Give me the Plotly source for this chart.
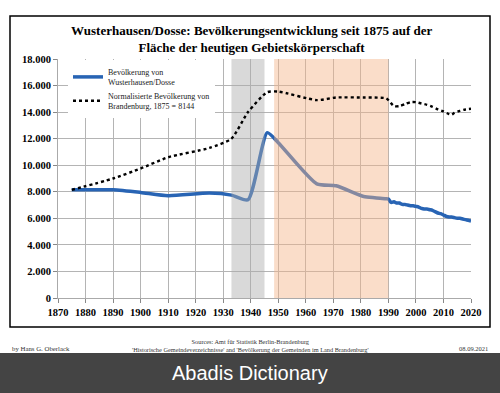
import plotly.graph_objects as go

# ---- data ----
years_wd = [1875, 1890, 1900, 1910, 1925, 1933, 1939, 1946, 1950, 1964, 1971, 1981, 1985, 1989, 1990,
            1991, 1992, 1993, 1994, 1995, 1996, 1997, 1998, 1999, 2000, 2001, 2002, 2003, 2004, 2005,
            2006, 2007, 2008, 2009, 2010, 2011, 2012, 2013, 2014, 2015, 2016, 2017, 2018, 2019, 2020]
pop_wd = [8144, 8150, 7950, 7700, 7900, 7750, 7400, 12450, 11700, 8600, 8450, 7650, 7550, 7480, 7450,
          7200, 7250, 7150, 7150, 7050, 7050, 7000, 6950, 6950, 6900, 6850, 6750, 6700, 6700, 6650,
          6600, 6500, 6400, 6350, 6250, 6150, 6100, 6100, 6050, 6000, 6000, 5950, 5900, 5850, 5800]

years_bb = [1875, 1890, 1900, 1910, 1925, 1933, 1939, 1946, 1950, 1964, 1971, 1981, 1985, 1989, 1990,
            1992, 1994, 1996, 1998, 2000, 2002, 2004, 2006, 2008, 2010, 2012, 2013, 2014, 2016, 2018, 2020]
pop_bb = [8144, 9000, 9750, 10600, 11300, 12000, 14000, 15500, 15550, 14900, 15100, 15100, 15100, 15050, 14900,
          14450, 14450, 14600, 14750, 14750, 14650, 14550, 14400, 14200, 14050, 13850, 13800, 13950, 14100, 14200, 14250]

nazi_period = [1933, 1945]
gdr_period = [1948.5, 1990]

x_ticks = [1870, 1880, 1890, 1900, 1910, 1920, 1930, 1940, 1950, 1960, 1970, 1980, 1990, 2000, 2010, 2020]
y_ticks = [0, 2000, 4000, 6000, 8000, 10000, 12000, 14000, 16000, 18000]
y_tick_labels = ["0", "2.000", "4.000", "6.000", "8.000", "10.000", "12.000", "14.000", "16.000", "18.000"]

title_text = ("Wusterhausen/Dosse: Bevölkerungsentwicklung seit 1875 auf der<br>"
              "Fläche der heutigen Gebietskörperschaft")

SERIF = "Liberation Serif"

fig = go.Figure()

fig.add_trace(go.Scatter(
    x=years_wd, y=pop_wd, mode="lines", name="Bevölkerung von<br>Wusterhausen/Dosse",
    line=dict(color="rgb(40,100,180)", width=3.5, shape="spline", smoothing=0.6)))

# period bands drawn between the two series
fig.add_trace(go.Scatter(
    x=[nazi_period[0], nazi_period[1], nazi_period[1], nazi_period[0], nazi_period[0]],
    y=[0, 0, 18000, 18000, 0], fill="toself", mode="none",
    fillcolor="rgba(170,170,170,0.45)", showlegend=False, hoverinfo="skip"))
fig.add_trace(go.Scatter(
    x=[gdr_period[0], gdr_period[1], gdr_period[1], gdr_period[0], gdr_period[0]],
    y=[0, 0, 18000, 18000, 0], fill="toself", mode="none",
    fillcolor="rgba(245,180,135,0.45)", showlegend=False, hoverinfo="skip"))

fig.add_trace(go.Scatter(
    x=years_bb, y=pop_bb, mode="lines", name="Normalisierte Bevölkerung von<br>Brandenburg, 1875 = 8144",
    line=dict(color="black", width=2.4, dash="dot", shape="spline", smoothing=0.6)))

# plot area geometry (pixels)
L, R, T, B = 58, 471, 59, 298
W, H = 500, 393
pw, ph = R - L, B - T
def px(x):
    return (x - L) / pw
def py(y):
    return (B - y) / ph

shapes = [
    dict(type="rect", xref="paper", yref="paper", x0=px(10), x1=px(490), y0=py(327), y1=py(16),
         line=dict(color="black", width=1.5), fillcolor="rgba(0,0,0,0)", layer="below"),
    dict(type="rect", xref="paper", yref="paper", x0=px(-2), x1=px(502), y0=py(395), y1=py(353),
         line=dict(width=0), fillcolor="rgb(68,68,68)", layer="above"),
]

annotations = [
    dict(text=title_text, xref="paper", yref="paper", x=px(251), y=py(21), xanchor="center", yanchor="top",
         showarrow=False, font=dict(family=SERIF, size=13, color="black", weight="bold"), align="center"),
    dict(text="by Hans G. Oberlack", xref="paper", yref="paper", x=px(10), y=py(348), xanchor="left",
         yanchor="middle", showarrow=False, font=dict(family=SERIF, size=6.8, color="#333")),
    dict(text="Sources: Amt für Statistik Berlin-Brandenburg<br>"
              "'Historische Gemeindeverzeichnisse' and 'Bevölkerung der Gemeinden im Land Brandenburg'",
         xref="paper", yref="paper", x=px(250), y=py(345), xanchor="center", yanchor="middle",
         showarrow=False, font=dict(family=SERIF, size=6.3, color="#333"), align="center"),
    dict(text="08.09.2021", xref="paper", yref="paper", x=px(490), y=py(348), xanchor="right",
         yanchor="middle", showarrow=False, font=dict(family=SERIF, size=6.5, color="#333")),
    dict(text="Abadis Dictionary", xref="paper", yref="paper", x=px(250), y=py(373), xanchor="center",
         yanchor="middle", showarrow=False, font=dict(family="Liberation Sans", size=20, color="white")),
]

fig.update_layout(
    width=W, height=H,
    margin=dict(l=L, r=W - R, t=T, b=H - B, pad=0),
    paper_bgcolor="white", plot_bgcolor="white",
    shapes=shapes, annotations=annotations,
    showlegend=True,
    legend=dict(x=px(68), y=py(60), xanchor="left", yanchor="top", bgcolor="white",
                font=dict(family=SERIF, size=8, color="#222"), tracegroupgap=0,
                itemwidth=30, borderwidth=0),
    xaxis=dict(range=[1870, 2020], tickvals=x_ticks, showgrid=True, gridcolor="#b4b4b4", gridwidth=1,
               ticks="outside", ticklen=4, tickcolor="#888", zeroline=False,
               showline=True, linecolor="#aaa", linewidth=1, automargin=False,
               tickfont=dict(family=SERIF, size=10.5, color="black", weight="bold")),
    yaxis=dict(range=[0, 18000], tickvals=y_ticks, ticktext=y_tick_labels, showgrid=True,
               gridcolor="#b4b4b4", gridwidth=1, ticks="outside", ticklen=4, tickcolor="#888",
               zeroline=False, showline=True, linecolor="#aaa", linewidth=1, automargin=False,
               tickfont=dict(family=SERIF, size=10.5, color="black", weight="bold")),
)

fig.write_html("out.html", config={"displayModeBar": False},
               post_script="document.body.style.margin='0';document.body.style.overflow='hidden';")
